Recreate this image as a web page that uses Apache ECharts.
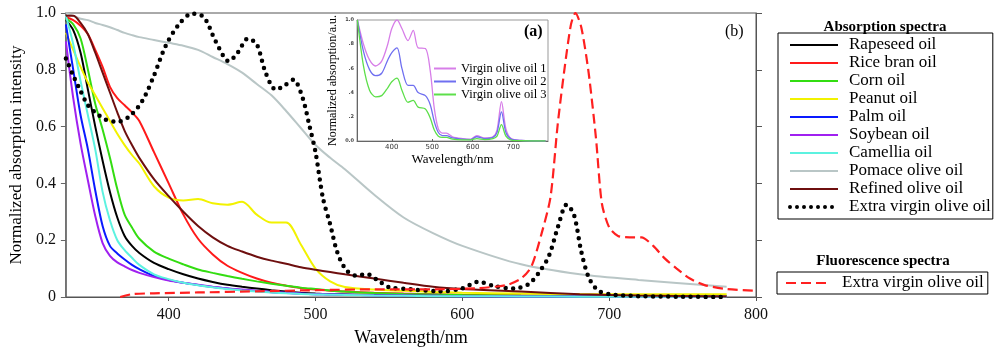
<!DOCTYPE html>
<html>
<head>
<meta charset="utf-8">
<script src="https://cdn.jsdelivr.net/npm/echarts@6/dist/echarts.min.js"></script>
<style>
  html, body { margin: 0; padding: 0; background: #fff; }
  #chart { width: 1000px; height: 354px; }
</style>
</head>
<body>
<div id="chart"></div>
<script>
// wavelength grid (nm) for the smooth absorption curves
const wl = [330, 335, 340, 345, 350, 355, 360, 365, 370, 375, 380, 390, 400, 410, 420, 430, 440, 450, 460, 470, 480, 490, 500, 510, 520, 540, 560, 580, 600, 640, 680, 720, 780]
const rapeseed = [0.975, 0.94, 0.86, 0.73, 0.60, 0.48, 0.37, 0.28, 0.215, 0.18, 0.155, 0.12, 0.098, 0.08, 0.065, 0.053, 0.043, 0.036, 0.03, 0.024, 0.019, 0.015, 0.012, 0.01, 0.009, 0.007, 0.006, 0.005, 0.004, 0.003, 0.002, 0.002, 0.001]
const riceBran = [0.985, 0.975, 0.955, 0.925, 0.87, 0.81, 0.74, 0.70, 0.675, 0.65, 0.62, 0.51, 0.40, 0.29, 0.205, 0.15, 0.11, 0.085, 0.065, 0.05, 0.04, 0.032, 0.026, 0.022, 0.019, 0.015, 0.012, 0.01, 0.008, 0.006, 0.005, 0.004, 0.003]
const corn = [0.98, 0.96, 0.91, 0.80, 0.68, 0.59, 0.49, 0.38, 0.29, 0.245, 0.205, 0.16, 0.135, 0.115, 0.097, 0.085, 0.074, 0.064, 0.055, 0.047, 0.04, 0.033, 0.028, 0.023, 0.019, 0.014, 0.011, 0.009, 0.007, 0.005, 0.004, 0.003, 0.002]
const peanut = [0.93, 0.87, 0.81, 0.755, 0.71, 0.665, 0.62, 0.575, 0.535, 0.50, 0.47, 0.39, 0.35, 0.34, 0.345, 0.33, 0.325, 0.335, 0.29, 0.262, 0.262, 0.185, 0.10, 0.055, 0.035, 0.026, 0.022, 0.018, 0.015, 0.012, 0.01, 0.01, 0.01]
const palm = [0.96, 0.80, 0.64, 0.52, 0.375, 0.25, 0.18, 0.153, 0.132, 0.113, 0.098, 0.074, 0.06, 0.05, 0.042, 0.035, 0.03, 0.025, 0.021, 0.017, 0.014, 0.012, 0.01, 0.009, 0.008, 0.006, 0.005, 0.004, 0.003, 0.002, 0.002, 0.001, 0.001]
const soybean = [0.90, 0.70, 0.54, 0.41, 0.285, 0.19, 0.145, 0.122, 0.108, 0.095, 0.085, 0.07, 0.058, 0.05, 0.043, 0.036, 0.03, 0.026, 0.022, 0.018, 0.015, 0.012, 0.01, 0.009, 0.008, 0.006, 0.005, 0.004, 0.003, 0.002, 0.002, 0.001, 0.001]
const camellia = [0.99, 0.89, 0.76, 0.64, 0.52, 0.37, 0.27, 0.20, 0.165, 0.138, 0.113, 0.08, 0.063, 0.05, 0.041, 0.034, 0.028, 0.023, 0.019, 0.016, 0.013, 0.011, 0.009, 0.008, 0.007, 0.005, 0.004, 0.003, 0.003, 0.002, 0.001, 0.001, 0.001]
const pomace = [1.0, 0.99, 0.98, 0.975, 0.965, 0.958, 0.95, 0.94, 0.93, 0.922, 0.915, 0.905, 0.895, 0.885, 0.87, 0.845, 0.82, 0.79, 0.75, 0.71, 0.655, 0.595, 0.535, 0.49, 0.45, 0.36, 0.28, 0.225, 0.18, 0.115, 0.08, 0.06, 0.036]
const refined = [0.99, 0.99, 0.965, 0.925, 0.86, 0.79, 0.72, 0.65, 0.585, 0.535, 0.49, 0.415, 0.355, 0.30, 0.25, 0.21, 0.18, 0.16, 0.142, 0.128, 0.117, 0.105, 0.096, 0.088, 0.08, 0.065, 0.05, 0.036, 0.028, 0.019, 0.01, 0.005, 0.002]

// extra virgin olive oil absorption (dotted)
const wlEvoo = [330, 335, 340, 345, 350, 357, 365, 373, 382, 390, 398, 407, 416, 424, 432, 441, 447, 454, 460, 466, 473, 479, 485, 491, 496, 500, 505, 510, 515, 521, 528, 535, 542, 550, 565, 585, 600, 611, 622, 635, 645, 652, 659, 665, 671, 676, 681, 686, 692, 700, 720, 750, 780]
const evoo = [0.84, 0.78, 0.725, 0.675, 0.65, 0.625, 0.617, 0.635, 0.69, 0.78, 0.885, 0.96, 0.998, 0.985, 0.90, 0.83, 0.86, 0.91, 0.89, 0.79, 0.73, 0.745, 0.765, 0.705, 0.60, 0.51, 0.35, 0.255, 0.155, 0.095, 0.075, 0.081, 0.06, 0.035, 0.027, 0.02, 0.03, 0.054, 0.038, 0.03, 0.045, 0.085, 0.145, 0.245, 0.325, 0.29, 0.16, 0.07, 0.025, 0.01, 0.003, 0.001, 0]

// extra virgin olive oil fluorescence (dashed)
const wlFluo = [367, 375, 390, 420, 460, 500, 540, 580, 610, 630, 640, 647, 654, 660, 665, 670, 674, 677, 681, 686, 691, 695, 700, 706, 714, 722, 730, 738, 746, 755, 765, 780, 800]
const fluo = [0, 0.01, 0.013, 0.016, 0.02, 0.024, 0.027, 0.027, 0.031, 0.042, 0.065, 0.107, 0.224, 0.35, 0.61, 0.82, 0.96, 1.0, 0.95, 0.79, 0.56, 0.33, 0.245, 0.215, 0.21, 0.21, 0.18, 0.135, 0.1, 0.065, 0.042, 0.028, 0.022]

// inset (a): virgin olive oils
const wlInset = [315, 330, 345, 360, 375, 390, 400, 413, 425, 440, 453, 465, 483, 495, 505, 515, 525, 535, 550, 575, 595, 610, 630, 650, 660, 671, 682, 695, 720, 780]
const virgin1 = [1.0, 0.80, 0.67, 0.62, 0.66, 0.80, 0.93, 1.0, 0.93, 0.83, 0.915, 0.77, 0.765, 0.58, 0.27, 0.10, 0.065, 0.065, 0.035, 0.02, 0.015, 0.045, 0.025, 0.035, 0.09, 0.325, 0.10, 0.02, 0.005, 0]
const virgin2 = [1.0, 0.74, 0.59, 0.54, 0.56, 0.67, 0.73, 0.77, 0.60, 0.46, 0.46, 0.40, 0.375, 0.30, 0.16, 0.07, 0.045, 0.045, 0.025, 0.015, 0.012, 0.035, 0.02, 0.03, 0.07, 0.24, 0.07, 0.015, 0.004, 0]
const virgin3 = [1.0, 0.62, 0.42, 0.365, 0.375, 0.44, 0.49, 0.52, 0.42, 0.32, 0.335, 0.28, 0.265, 0.19, 0.09, 0.04, 0.03, 0.03, 0.015, 0.01, 0.01, 0.02, 0.012, 0.02, 0.04, 0.135, 0.04, 0.008, 0.002, 0]

const mainTicks = [400, 500, 600, 700, 800]
const insetTicks = [400, 500, 600, 700]

const serif = 'Liberation Serif'
const zip = (xs, ys) => xs.map((x, i) => [x, ys[i]])

const oils = [
  { name: 'Rapeseed oil', color: '#000000', data: rapeseed },
  { name: 'Rice bran oil', color: '#ff1a1a', data: riceBran },
  { name: 'Corn oil', color: '#33dd11', data: corn },
  { name: 'Peanut oil', color: '#f2f200', data: peanut },
  { name: 'Palm oil', color: '#0a1aff', data: palm },
  { name: 'Soybean oil', color: '#a020f0', data: soybean },
  { name: 'Camellia oil', color: '#5cf2e0', data: camellia },
  { name: 'Pomace olive oil', color: '#b9c6c6', data: pomace },
  { name: 'Refined olive oil', color: '#6e0f0f', data: refined }
]
const EVOO = 'Extra virgin olive oil'
const FLUO = 'Extra virgin olive oil (fluorescence)'
const dotted = { color: '#000', width: 4.5, type: [0, 7.5], cap: 'round' }

const series = oils.map(o => ({
  name: o.name,
  type: 'line',
  smooth: 0.3,
  symbol: 'none',
  data: zip(wl, o.data),
  lineStyle: { color: o.color, width: 2 },
  itemStyle: { color: o.color }
}))
series.push({
  name: EVOO,
  type: 'line',
  smooth: 0.3,
  symbol: 'none',
  data: zip(wlEvoo, evoo),
  lineStyle: dotted,
  itemStyle: { color: '#000' }
})
series.push({
  name: FLUO,
  type: 'line',
  smooth: 0.25,
  symbol: 'none',
  data: zip(wlFluo, fluo),
  lineStyle: { color: '#ff2020', width: 2.2, type: [10, 5] },
  itemStyle: { color: '#ff2020' }
})
const insetLines = [
  { name: 'Virgin olive oil 1', color: '#d77ee8', data: virgin1 },
  { name: 'Virgin olive oil 2', color: '#6f6ff0', data: virgin2 },
  { name: 'Virgin olive oil 3', color: '#5ddf4a', data: virgin3 }
]
insetLines.forEach(o => series.push({
  name: o.name,
  type: 'line',
  smooth: 0.3,
  symbol: 'none',
  xAxisIndex: 1,
  yAxisIndex: 2,
  data: zip(wlInset, o.data),
  lineStyle: { color: o.color, width: 1.3 },
  itemStyle: { color: o.color }
}))

const chart = echarts.init(document.getElementById('chart'))
const option = {
  animation: false,
  backgroundColor: '#fff',
  title: [
    { text: 'Absorption spectra', left: 880, top: 15, textAlign: 'center',
      textStyle: { fontFamily: serif, fontSize: 15, fontWeight: 'bold', color: '#000' } },
    { text: 'Fluorescence spectra', left: 878, top: 249, textAlign: 'center',
      textStyle: { fontFamily: serif, fontSize: 15, fontWeight: 'bold', color: '#000' } }
  ],
  legend: [
    {
      data: oils.map(o => o.name).concat([{ name: EVOO, lineStyle: { width: 4, type: [0, 7], cap: 'round' } }]),
      orient: 'vertical', left: 778, top: 33,
      itemWidth: 48, itemHeight: 14, itemGap: 0,
      padding: [3, 2, 3, 10],
      borderColor: '#000', borderWidth: 1,
      itemStyle: { opacity: 0 },
      textStyle: { fontFamily: serif, fontSize: 17, color: '#000', lineHeight: 18, padding: [0, 0, 0, 6] }
    },
    {
      data: [FLUO],
      orient: 'vertical', left: 777, top: 272,
      itemWidth: 45, itemHeight: 14, itemGap: 0,
      padding: [2, 4, 2, 8],
      borderColor: '#000', borderWidth: 1,
      itemStyle: { opacity: 0 },
      formatter: () => 'Extra virgin olive oil',
      textStyle: { fontFamily: serif, fontSize: 17, color: '#000', lineHeight: 18, padding: [0, 0, 0, 6] }
    },
    {
      data: insetLines.map(o => o.name),
      orient: 'vertical', left: 433, top: 62,
      itemWidth: 22, itemHeight: 10, itemGap: 0,
      padding: 0,
      itemStyle: { opacity: 0 },
      textStyle: { fontFamily: serif, fontSize: 12.5, color: '#000', lineHeight: 10, padding: [0, 0, 0, 0] }
    }
  ],
  grid: [
    { left: 62, top: 13, right: 244, bottom: 57, show: true, borderColor: '#555', borderWidth: 1 },
    { left: 357, top: 20, width: 191, height: 121, show: true, borderColor: '#999', borderWidth: 1, backgroundColor: '#fff' }
  ],
  xAxis: [
    {
      type: 'value', gridIndex: 0, min: 330, max: 800,
      name: 'Wavelength/nm', nameLocation: 'middle', nameGap: 32,
      nameTextStyle: { fontFamily: serif, fontSize: 18, color: '#000' },
      axisLine: { lineStyle: { color: '#555', width: 1.2 } },
      axisTick: { customValues: mainTicks, length: 4, lineStyle: { color: '#555' } },
      axisLabel: { customValues: mainTicks, fontFamily: serif, fontSize: 16, color: '#111', margin: 10 },
      splitLine: { show: false }
    },
    {
      type: 'value', gridIndex: 1, min: 314, max: 786,
      name: 'Wavelength/nm', nameLocation: 'middle', nameGap: 12,
      nameTextStyle: { fontFamily: serif, fontSize: 13, color: '#000' },
      axisLine: { lineStyle: { color: '#666' } },
      axisTick: { customValues: insetTicks, length: 2, inside: true, lineStyle: { color: '#666' } },
      axisLabel: { customValues: insetTicks, fontFamily: 'DejaVu Sans', fontSize: 7, color: '#333', margin: 3 },
      splitLine: { show: false }
    }
  ],
  yAxis: [
    {
      type: 'value', gridIndex: 0, min: 0, max: 1, interval: 0.2,
      name: 'Normalized absorption intensity', nameLocation: 'middle', nameGap: 35,
      nameTextStyle: { fontFamily: serif, fontSize: 17, color: '#000' },
      axisLine: { show: true, lineStyle: { color: '#666', width: 1.5 } },
      axisTick: { show: true, length: 5, lineStyle: { color: '#666' } },
      axisLabel: { fontFamily: serif, fontSize: 16, color: '#111', margin: 10,
        formatter: v => v === 0 ? '0' : v.toFixed(1) },
      splitLine: { show: false }
    },
    {
      type: 'value', gridIndex: 0, min: 0, max: 1, interval: 0.2, position: 'right',
      axisLine: { show: true, lineStyle: { color: '#555' } },
      axisTick: { show: true, length: 6, lineStyle: { color: '#555' } },
      axisLabel: { show: false },
      splitLine: { show: false }
    },
    {
      type: 'value', gridIndex: 1, min: 0, max: 1, interval: 0.2,
      name: 'Normalized absorption/a.u.', nameLocation: 'middle', nameGap: 18,
      nameTextStyle: { fontFamily: serif, fontSize: 12, color: '#000' },
      axisLine: { show: true, lineStyle: { color: '#666' } },
      axisTick: { show: false },
      axisLabel: { fontFamily: 'DejaVu Sans', fontSize: 5, fontWeight: 'bold', color: '#444', margin: 3,
        formatter: v => v === 0 ? '0.0' : v === 1 ? '1.0' : '.' + Math.round(v * 10) },
      splitLine: { show: false }
    }
  ],
  graphic: [
    { type: 'text', left: 524, top: 24, z: 100,
      style: { text: '(a)', font: 'bold 16px "Liberation Serif"', fill: '#000' } },
    { type: 'text', left: 725, top: 24, z: 100,
      style: { text: '(b)', font: '16px "Liberation Serif"', fill: '#000' } }
  ],
  series: series
}
chart.setOption(option)
</script>
</body>
</html>
